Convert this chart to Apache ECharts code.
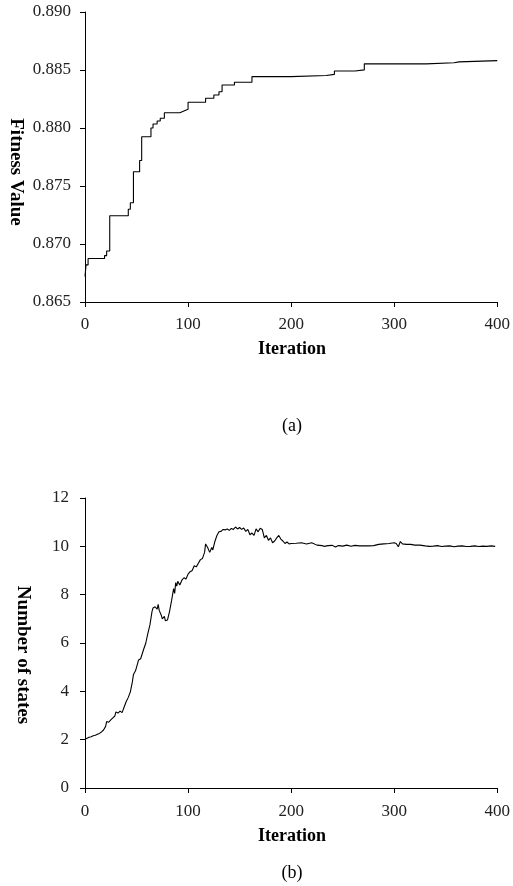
<!DOCTYPE html>
<html>
<head>
<meta charset="utf-8">
<script src="https://cdn.jsdelivr.net/npm/echarts@6/dist/echarts.min.js"></script>
<style>
html,body{margin:0;padding:0;background:#fff;}
#c{width:513px;height:886px;}
</style>
</head>
<body>
<div id="c"></div>
<script>
// Panel (a): best fitness value per iteration (step changes)
const fitnessIter = [0,1,3,19,21,24,42,44,47,53,55,64,66,70,73,77,92,96,100,117,125,130,133,145,162,200,234,242,262,271,331,358,363,400];
const fitnessVal  = [0.8672,0.8682,0.86875,0.8690,0.8694,0.87243,0.8730,0.87355,0.87623,0.8772,0.87925,0.8800,0.88035,0.8806,0.88084,0.88132,0.88147,0.88161,0.88222,0.88256,0.88285,0.88313,0.88371,0.88395,0.88443,0.88452,0.88462,0.88492,0.88501,0.88553,0.88562,0.8857,0.88581,0.88581];

// Panel (b): number of states per iteration
const statesIter = [0,2,4,6,8,10,12,14,16,18,20,21,23,25,27,29,30,32,34,36,38,40,42,44,46,47,49,51,52,54,55,57,59,61,63,65,66,67,68,70,71,72,74,75,77,78,80,82,84,85,86,87,88,89,90,92,94,96,98,100,102,104,106,108,110,112,114,116,117,119,121,123,124,126,128,130,132,134,136,138,140,142,144,146,148,150,152,154,156,158,160,162,164,166,168,170,172,174,176,178,180,182,184,186,188,190,192,194,196,198,200,205,210,215,220,225,230,232,236,240,243,246,250,254,258,262,266,270,275,280,285,290,295,300,302,304,306,308,312,316,320,325,330,334,338,342,346,350,354,358,362,366,370,374,378,382,386,390,394,398];
const statesVal = [2.02,2.06,2.10,2.12,2.16,2.18,2.22,2.26,2.32,2.40,2.55,2.75,2.72,2.82,2.90,2.98,3.15,3.10,3.18,3.12,3.35,3.58,3.75,3.98,4.40,4.70,4.85,5.15,5.30,5.35,5.30,5.75,6.00,6.40,6.75,7.30,7.45,7.38,7.50,7.40,7.60,7.35,7.15,7.00,7.10,6.92,6.95,7.30,7.75,7.80,8.25,8.05,8.50,8.35,8.55,8.40,8.60,8.70,8.65,8.85,8.95,9.00,9.20,9.15,9.30,9.45,9.50,9.75,10.10,9.95,9.75,9.95,9.85,10.20,10.45,10.60,10.62,10.70,10.68,10.72,10.66,10.74,10.70,10.80,10.72,10.78,10.70,10.76,10.62,10.70,10.48,10.55,10.45,10.72,10.60,10.75,10.70,10.35,10.45,10.25,10.35,10.15,10.22,10.35,10.45,10.30,10.22,10.12,10.18,10.10,10.12,10.13,10.15,10.10,10.15,10.05,10.03,10.00,10.03,10.04,9.97,10.03,10.01,10.05,10.00,10.04,10.02,10.02,10.02,10.03,10.08,10.10,10.12,10.15,10.12,9.98,10.20,10.10,10.08,10.08,10.05,10.05,10.02,10.00,10.01,10.03,9.99,10.01,10.02,9.98,10.01,10.02,9.99,10.00,10.02,9.99,10.01,10.00,10.02,10.00];

const xTicks = [0,100,200,300,400];
const fitnessTicks = [0.865,0.870,0.875,0.880,0.885,0.890];
const statesTicks = [0,2,4,6,8,10,12];

const FONT = '"Liberation Serif", "Times New Roman", serif';
const axisCommon = {
  axisLine: {show: true, lineStyle: {color: '#000', width: 1}},
  axisTick: {show: true, inside: false, length: 5, lineStyle: {color: '#000', width: 1}},
  splitLine: {show: false},
  axisLabel: {color: '#222', fontFamily: FONT, fontSize: 17}
};

const chart = echarts.init(document.getElementById('c'), null, {renderer: 'canvas'});
chart.setOption({
  animation: false,
  backgroundColor: '#fff',
  grid: [
    {left: 85, top: 12, width: 415, height: 290},
    {left: 85, top: 498, width: 414, height: 290}
  ],
  xAxis: [
    Object.assign({}, axisCommon, {type: 'value', gridIndex: 0, min: xTicks[0], max: xTicks[xTicks.length-1], interval: 100,
      axisLabel: Object.assign({}, axisCommon.axisLabel, {margin: 14})}),
    Object.assign({}, axisCommon, {type: 'value', gridIndex: 1, min: xTicks[0], max: xTicks[xTicks.length-1], interval: 100,
      axisLabel: Object.assign({}, axisCommon.axisLabel, {margin: 15})})
  ],
  yAxis: [
    Object.assign({}, axisCommon, {type: 'value', gridIndex: 0, min: fitnessTicks[0], max: fitnessTicks[fitnessTicks.length-1], interval: 0.005,
      axisLabel: Object.assign({}, axisCommon.axisLabel, {margin: 14, formatter: v => v.toFixed(3)})}),
    Object.assign({}, axisCommon, {type: 'value', gridIndex: 1, min: statesTicks[0], max: statesTicks[statesTicks.length-1], interval: 2,
      axisLabel: Object.assign({}, axisCommon.axisLabel, {margin: 16})})
  ],
  series: [
    {type: 'line', xAxisIndex: 0, yAxisIndex: 0, step: 'end', showSymbol: false, symbol: 'none',
      lineStyle: {color: '#000', width: 1.1}, data: fitnessIter.map((x, i) => [x, fitnessVal[i]])},
    {type: 'line', xAxisIndex: 1, yAxisIndex: 1, showSymbol: false, symbol: 'none',
      lineStyle: {color: '#000', width: 1.1}, data: statesIter.map((x, i) => [x, statesVal[i]])}
  ],
  graphic: [
    {type: 'text', x: 16, y: 172, rotation: -Math.PI/2, style: {text: 'Fitness Value', font: 'bold 19px ' + FONT, fill: '#000', textAlign: 'center', textVerticalAlign: 'middle'}},
    {type: 'text', x: 292, y: 349, style: {text: 'Iteration', font: 'bold 18px ' + FONT, fill: '#000', textAlign: 'center', textVerticalAlign: 'middle'}},
    {type: 'text', x: 292, y: 426, style: {text: '(a)', font: '18px ' + FONT, fill: '#000', textAlign: 'center', textVerticalAlign: 'middle'}},
    {type: 'text', x: 23, y: 655, rotation: -Math.PI/2, style: {text: 'Number of states', font: 'bold 19px ' + FONT, fill: '#000', textAlign: 'center', textVerticalAlign: 'middle'}},
    {type: 'text', x: 292, y: 836, style: {text: 'Iteration', font: 'bold 18px ' + FONT, fill: '#000', textAlign: 'center', textVerticalAlign: 'middle'}},
    {type: 'text', x: 292, y: 873, style: {text: '(b)', font: '18px ' + FONT, fill: '#000', textAlign: 'center', textVerticalAlign: 'middle'}}
  ]
});
</script>
</body>
</html>
